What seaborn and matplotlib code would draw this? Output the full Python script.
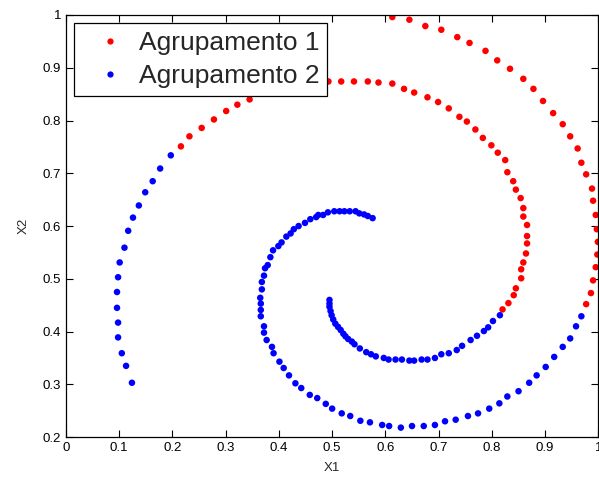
import pandas as pd
import seaborn as sns
import matplotlib.pyplot as plt
from matplotlib.ticker import FuncFormatter

# Cluster 1 (red)
g1_x = [0.820, 0.831, 0.841, 0.845, 0.855, 0.855, 0.859, 0.864, 0.866, 0.866,
        0.866, 0.859, 0.859, 0.854, 0.845, 0.840, 0.829, 0.825, 0.811, 0.799,
        0.783, 0.769, 0.753, 0.739, 0.719, 0.699, 0.679, 0.654, 0.635, 0.613,
        0.587, 0.567, 0.541, 0.517, 0.493,
        0.345, 0.322, 0.301, 0.278, 0.255, 0.232, 0.216,
        0.613, 0.645, 0.675, 0.705, 0.735, 0.758, 0.788, 0.810, 0.834, 0.859,
        0.878, 0.896, 0.915, 0.933, 0.947, 0.961, 0.968, 0.977, 0.988, 0.990,
        0.995, 0.997, 0.999, 0.998, 0.995, 0.990, 0.986, 0.977]
g1_y = [0.442, 0.454, 0.469, 0.482, 0.501, 0.518, 0.531, 0.548, 0.567, 0.581,
        0.602, 0.618, 0.634, 0.653, 0.669, 0.685, 0.702, 0.725, 0.739, 0.753,
        0.767, 0.783, 0.798, 0.807, 0.823, 0.835, 0.844, 0.853, 0.860, 0.870,
        0.872, 0.874, 0.874, 0.874, 0.874,
        0.840, 0.830, 0.818, 0.802, 0.786, 0.770, 0.751,
        0.996, 0.991, 0.979, 0.972, 0.958, 0.947, 0.932, 0.914, 0.898, 0.879,
        0.860, 0.837, 0.814, 0.793, 0.770, 0.747, 0.720, 0.698, 0.671, 0.648,
        0.621, 0.594, 0.570, 0.546, 0.522, 0.497, 0.473, 0.452]

# Cluster 2 (blue)
g2_x = [0.197, 0.177, 0.163, 0.149, 0.137, 0.126, 0.117, 0.110, 0.101, 0.098,
        0.096, 0.096, 0.098, 0.098, 0.105, 0.113, 0.124,
        0.576, 0.567, 0.560, 0.551, 0.544, 0.533, 0.523, 0.514, 0.504, 0.492,
        0.483, 0.474, 0.470, 0.459, 0.449, 0.437, 0.428, 0.422, 0.414, 0.405,
        0.399, 0.389, 0.384, 0.379, 0.374, 0.372, 0.368, 0.368, 0.365, 0.366,
        0.366, 0.366, 0.372, 0.372, 0.377, 0.387, 0.390, 0.401, 0.409, 0.419,
        0.431, 0.442, 0.458, 0.472, 0.488, 0.500, 0.518, 0.534, 0.553, 0.571,
        0.594, 0.607, 0.629, 0.650, 0.672, 0.693, 0.712, 0.732, 0.755, 0.774,
        0.795, 0.814, 0.829, 0.850, 0.870, 0.884, 0.901, 0.917, 0.933, 0.947,
        0.958, 0.968,
        0.495, 0.495, 0.495, 0.497, 0.499, 0.502, 0.506, 0.511, 0.516, 0.521,
        0.525, 0.530, 0.537, 0.542, 0.552, 0.564, 0.573, 0.582, 0.597, 0.606,
        0.619, 0.631, 0.645, 0.654, 0.668, 0.679, 0.693, 0.705, 0.719, 0.734,
        0.744, 0.760, 0.772, 0.785, 0.793, 0.802, 0.815]
g2_y = [0.734, 0.709, 0.685, 0.664, 0.639, 0.616, 0.591, 0.559, 0.531, 0.503,
        0.475, 0.445, 0.417, 0.389, 0.359, 0.335, 0.303,
        0.615, 0.619, 0.622, 0.624, 0.628, 0.628, 0.628, 0.628, 0.628, 0.626,
        0.621, 0.621, 0.617, 0.613, 0.606, 0.600, 0.594, 0.586, 0.580, 0.569,
        0.562, 0.554, 0.541, 0.526, 0.520, 0.506, 0.494, 0.480, 0.464, 0.453,
        0.441, 0.429, 0.410, 0.398, 0.384, 0.371, 0.359, 0.343, 0.331, 0.317,
        0.302, 0.293, 0.280, 0.274, 0.263, 0.254, 0.245, 0.240, 0.231, 0.228,
        0.223, 0.221, 0.218, 0.221, 0.221, 0.223, 0.230, 0.233, 0.240, 0.245,
        0.254, 0.264, 0.277, 0.287, 0.303, 0.317, 0.333, 0.352, 0.371, 0.387,
        0.410, 0.429,
        0.460, 0.453, 0.447, 0.439, 0.431, 0.423, 0.415, 0.409, 0.403, 0.396,
        0.391, 0.386, 0.381, 0.376, 0.368, 0.361, 0.357, 0.353, 0.350, 0.347,
        0.347, 0.347, 0.345, 0.345, 0.347, 0.347, 0.350, 0.357, 0.359, 0.365,
        0.373, 0.384, 0.392, 0.401, 0.408, 0.420, 0.431]

labels = ["Agrupamento 1", "Agrupamento 2"]
colors = ["#ff0000", "#0000ff"]

df = pd.concat([
    pd.DataFrame({"X1": g1_x, "X2": g1_y, "grupo": labels[0]}),
    pd.DataFrame({"X1": g2_x, "X2": g2_y, "grupo": labels[1]}),
])

sns.set_style("ticks")
plt.rcParams["font.family"] = ["Liberation Sans", "DejaVu Sans"]

fig = plt.figure(figsize=(5.99, 4.83), dpi=100)
ax = fig.add_axes([0.110, 0.095, 0.889, 0.874])

sns.scatterplot(data=df, x="X1", y="X2", hue="grupo", palette=colors,
                s=22, linewidth=0, ax=ax, legend=False)

ax.set_xlim(0, 1)
ax.set_ylim(0.2, 1)
ax.set_xticks([i / 10 for i in range(11)])
ax.set_yticks([i / 10 for i in range(2, 11)])
fmt = FuncFormatter(lambda v, p: f"{v:g}")
ax.xaxis.set_major_formatter(fmt)
ax.yaxis.set_major_formatter(fmt)
ax.tick_params(direction="in", top=True, right=True, length=5, width=0.8,
               labelsize=9.5, colors="black")
for s in ax.spines.values():
    s.set_visible(True)
    s.set_linewidth(0.9)
    s.set_color("black")

ax.set_xlabel("X1", fontsize=9.5, labelpad=6)
ax.set_ylabel("X2", fontsize=9.5, labelpad=9)

handles = [plt.Line2D([], [], marker="o", linestyle="", color=c,
                      markersize=4.5, markeredgewidth=0) for c in colors]
leg = ax.legend(handles, labels, loc="upper left", numpoints=1,
                bbox_to_anchor=(0.015, 0.981), borderaxespad=0,
                fontsize=19, fancybox=False, framealpha=1,
                edgecolor="black", handlelength=2.1, handletextpad=0.05,
                borderpad=0.3, labelspacing=0.35)
leg.get_frame().set_linewidth(0.9)

fig.savefig("out.png", dpi=100)
